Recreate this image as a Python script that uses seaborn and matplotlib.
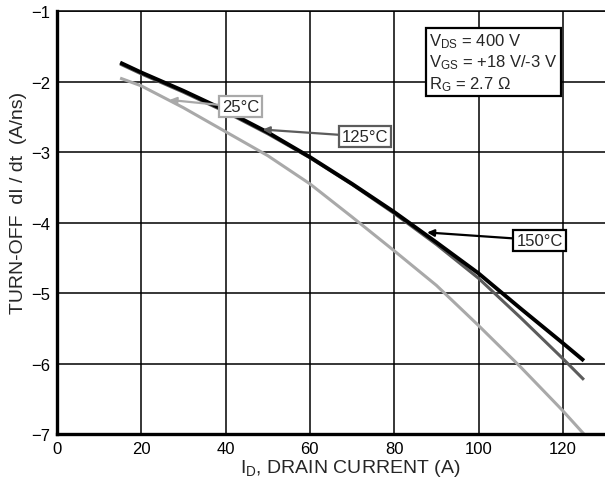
import pandas as pd
import matplotlib
matplotlib.use('Agg')
import matplotlib.pyplot as plt
import seaborn as sns

# drain current, A
current = [15, 20, 30, 40, 50, 60, 70, 80, 90, 100, 110, 120, 125]
# turn-off dI/dt, A/ns
didt_25 = [-1.95, -2.06, -2.37, -2.71, -3.05, -3.45, -3.92, -4.40, -4.89, -5.46, -6.05, -6.67, -7.00]
didt_125 = [-1.75, -1.89, -2.15, -2.43, -2.74, -3.08, -3.46, -3.87, -4.31, -4.79, -5.35, -5.93, -6.23]
didt_150 = [-1.73, -1.87, -2.13, -2.41, -2.72, -3.07, -3.45, -3.85, -4.28, -4.72, -5.22, -5.71, -5.96]
temps = ['25°C', '125°C', '150°C']
xticks = [0, 20, 40, 60, 80, 100, 120]
yticks = [-7, -6, -5, -4, -3, -2, -1]

sns.set_style('white')
plt.rcParams['font.family'] = ['Liberation Sans', 'DejaVu Sans']
plt.rcParams['mathtext.fontset'] = 'custom'
plt.rcParams['mathtext.rm'] = 'Liberation Sans'
plt.rcParams['mathtext.default'] = 'regular'

df = pd.DataFrame({
    'current': current * 3,
    'didt': didt_25 + didt_125 + didt_150,
    'temp': [temps[0]] * len(current) + [temps[1]] * len(current) + [temps[2]] * len(current),
})
colors = {'25°C': '#a9a9a9', '125°C': '#5c5c5c', '150°C': '#000000'}

fig = plt.figure(figsize=(6.05, 4.85), dpi=100)
ax = fig.add_axes([0.094, 0.103, 0.906, 0.872])

sns.lineplot(data=df, x='current', y='didt', hue='temp', palette=colors,
             hue_order=temps, legend=False, ax=ax, zorder=3)
for line, lw in zip(ax.lines, [2.2, 2.2, 2.8]):
    line.set_linewidth(lw)
    line.set_solid_capstyle('butt')

ax.set_xlim(0, 130)
ax.set_ylim(-7, -1)
ax.set_xticks(xticks)
ax.set_yticks(yticks)
ax.tick_params(length=0, pad=5, labelsize=12, colors='black')
ax.grid(True, color='black', linewidth=1.1)
ax.set_axisbelow(True)

ax.spines['left'].set_linewidth(2.4)
ax.spines['bottom'].set_linewidth(2.4)
ax.spines['top'].set_linewidth(1.1)
ax.spines['right'].set_visible(False)
for s in ax.spines.values():
    s.set_color('black')
    s.set_zorder(4)

ax.set_xlabel('I$_D$, DRAIN CURRENT (A)', fontsize=14)
ax.set_ylabel('TURN-OFF  dI / dt  (A/ns)', fontsize=14)
ax.xaxis.set_label_coords(0.535, -0.055)
ax.yaxis.set_label_coords(-0.055, 0.55)

# curve labels with arrows
labels = [
    ('25°C', (26.7, -2.26), (43.5, -2.36), colors['25°C']),
    ('125°C', (48.8, -2.68), (73.1, -2.78), colors['125°C']),
    ('150°C', (87.8, -4.14), (114.5, -4.25), colors['150°C']),
]
for txt, xy, xytext, col in labels:
    ax.annotate(txt, xy=xy, xytext=xytext, fontsize=12, ha='center', va='center',
                bbox=dict(boxstyle='square,pad=0.18', fc='white', ec=col, lw=1.6),
                arrowprops=dict(arrowstyle='-|>', color=col, lw=1.6,
                                mutation_scale=10, shrinkA=0, shrinkB=0),
                zorder=5)

ax.text(88.3, -1.28,
        '$V_{DS}$ = 400 V\n$V_{GS}$ = +18 V/-3 V\n$R_G$ = 2.7 Ω',
        fontsize=12, ha='left', va='top', linespacing=1.2,
        bbox=dict(boxstyle='square,pad=0.2', fc='white', ec='black', lw=1.6),
        zorder=5)

fig.savefig('out.png', dpi=100)
